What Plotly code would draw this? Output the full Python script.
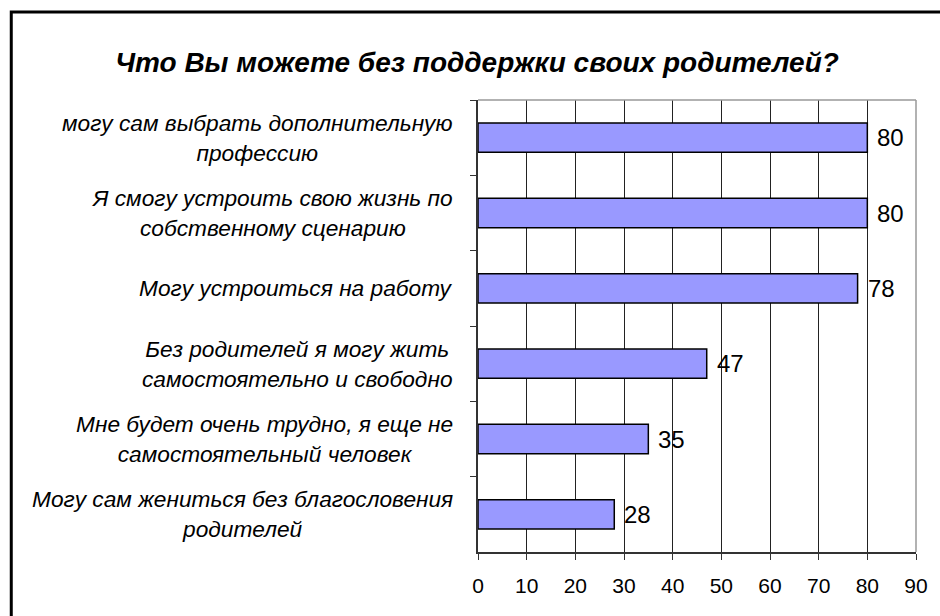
import plotly.graph_objects as go

categories = [
    "могу сам выбрать дополнительную<br>профессию",
    "Я смогу устроить свою жизнь по<br>собственному сценарию",
    "Могу устроиться на работу",
    "Без родителей я могу жить<br>самостоятельно и свободно",
    "Мне будет очень трудно, я еще не<br>самостоятельный человек",
    "Могу сам жениться без благословения<br>родителей",
]
values = [80, 80, 78, 47, 35, 28]
x_ticks = [0, 10, 20, 30, 40, 50, 60, 70, 80, 90]
title_text = "Что Вы можете без поддержки своих родителей?"

W, H = 940, 616
ML, MR, MT, MB = 478, 20, 100, 64
pw, ph = W - ML - MR, H - MT - MB

FONT = "Liberation Sans, Arial, sans-serif"

fig = go.Figure(go.Bar(
    y=categories, x=values, orientation="h",
    marker=dict(color="#9999FF", line=dict(color="#000000", width=1.5)),
    cliponaxis=False,
))

annotations = []
for c in categories:
    annotations.append(dict(
        x=(455 - ML) / pw, xref="paper", y=c, yref="y",
        text="<i>" + c + "</i>", showarrow=False, xanchor="right",
        align="center", font=dict(family=FONT, size=22.7, color="#000"),
    ))
for c, v in zip(categories, values):
    annotations.append(dict(
        x=v, xref="x", y=c, yref="y", text=str(v), showarrow=False,
        xanchor="left", xshift=8, font=dict(family=FONT, size=24, color="#000"),
    ))

fig.update_layout(
    width=W, height=H,
    margin=dict(l=ML, r=MR, t=MT, b=MB, pad=0),
    paper_bgcolor="white", plot_bgcolor="white",
    showlegend=False, bargap=0.61,
    title=dict(text="<b><i>" + title_text + "</i></b>", x=477 / W, xref="container",
               xanchor="center", y=1 - 62 / H, yref="container", yanchor="middle",
               font=dict(family=FONT, size=28, color="#000")),
    annotations=annotations,
    xaxis=dict(range=[0, 90], tickvals=x_ticks, ticktext=[str(t) for t in x_ticks],
               showgrid=True, gridcolor="#222", gridwidth=1,
               showline=True, linecolor="#333", linewidth=1.5,
               ticks="outside", ticklen=6, tickcolor="#333",
               ticklabelstandoff=8,
               tickfont=dict(family=FONT, size=21, color="#000"),
               zeroline=False, mirror=False),
    yaxis=dict(autorange="reversed", type="category", tickson="boundaries",
               showticklabels=False, showgrid=False,
               showline=True, linecolor="#333", linewidth=1.5,
               ticks="outside", ticklen=6, tickcolor="#333"),
    shapes=[
        dict(type="line", xref="paper", yref="paper", x0=0, x1=1, y0=1, y1=1,
             line=dict(color="#999", width=1.5)),
        dict(type="line", xref="paper", yref="paper", x0=1, x1=1, y0=0, y1=1,
             line=dict(color="#999", width=1.5)),
        dict(type="rect", xref="paper", yref="paper",
             x0=(7 - ML) / pw, x1=(960 - ML) / pw,
             y0=(H - MB - 640) / ph, y1=(H - MB - 12) / ph,
             line=dict(color="#000", width=3)),
    ],
)

fig.write_html("out.html", config={"displayModeBar": False},
               post_script="document.body.style.margin='0';")
